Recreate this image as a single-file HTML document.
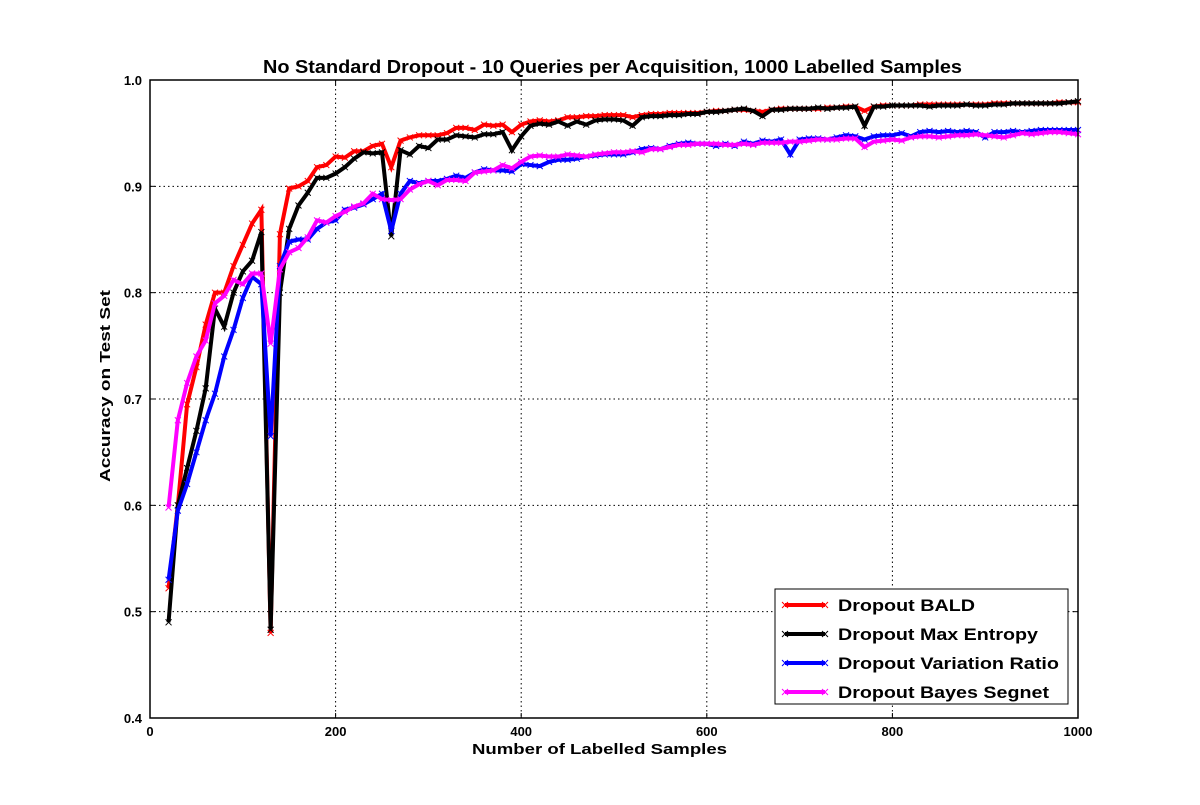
<!DOCTYPE html>
<html><head><meta charset="utf-8"><style>
body{margin:0;background:#fff;}
svg text{font-family:"Liberation Sans",sans-serif;font-weight:bold;}
</style></head><body>
<svg id="chart" width="1200" height="800">
<rect width="1200" height="800" fill="#fff"/>
<g id="grid"></g>
<g id="series"></g>
<rect x="150" y="80" width="928" height="638" fill="none" stroke="#000" stroke-width="1.5"/>
<g id="ticks"></g>
<text x="263" y="73" font-size="18" textLength="699" lengthAdjust="spacingAndGlyphs">No Standard Dropout - 10 Queries per Acquisition, 1000 Labelled Samples</text>
<text x="472" y="754" font-size="15" textLength="255" lengthAdjust="spacingAndGlyphs">Number of Labelled Samples</text>
<text transform="translate(110,482) rotate(-90)" font-size="15" textLength="192" lengthAdjust="spacingAndGlyphs">Accuracy on Test Set</text>
<g id="legend"></g>
</svg>
<script>
const xValues=[];for(let v=20;v<=1000;v+=10)xValues.push(v);
const xTicks=[0,200,400,600,800,1000];
const yTicks=[0.4,0.5,0.6,0.7,0.8,0.9,1.0];
const seriesNames=["Dropout BALD","Dropout Max Entropy","Dropout Variation Ratio","Dropout Bayes Segnet"];
const legendWidths=[137,200,221,211];
const bald=[.522,.60,.695,.73,.77,.80,.80,.825,.845,.865,.878,.48,.855,.898,.90,.905,.918,.92,.928,.927,.933,.933,.938,.94,.918,.943,.946,.948,.948,.948,.95,.955,.955,.953,.958,.957,.958,.951,.958,.961,.962,.961,.962,.965,.965,.966,.966,.967,.967,.967,.965,.967,.968,.968,.969,.969,.969,.969,.97,.971,.971,.972,.972,.971,.97,.972,.973,.973,.973,.973,.973,.974,.974,.975,.975,.971,.975,.976,.976,.976,.976,.977,.977,.977,.977,.977,.977,.977,.977,.978,.978,.978,.978,.978,.978,.978,.979,.979,.979];
const maxEntropy=[.49,.60,.635,.67,.71,.785,.768,.80,.82,.83,.857,.483,.80,.86,.882,.894,.908,.908,.912,.918,.926,.932,.931,.932,.853,.934,.93,.938,.936,.944,.944,.948,.947,.946,.949,.949,.951,.934,.947,.957,.959,.958,.961,.957,.961,.958,.962,.963,.963,.962,.957,.965,.966,.966,.967,.967,.968,.968,.97,.97,.971,.972,.973,.971,.966,.972,.972,.973,.973,.973,.974,.973,.974,.974,.975,.957,.975,.975,.976,.976,.976,.976,.975,.976,.976,.976,.977,.976,.976,.977,.977,.978,.978,.978,.978,.978,.978,.979,.98];
const variationRatio=[.53,.595,.62,.65,.68,.705,.74,.765,.795,.815,.808,.665,.825,.848,.85,.85,.86,.866,.868,.878,.88,.883,.888,.893,.858,.893,.905,.903,.905,.905,.907,.91,.908,.913,.916,.915,.915,.914,.921,.92,.919,.923,.925,.925,.926,.928,.929,.93,.93,.93,.932,.935,.936,.935,.938,.94,.941,.94,.94,.938,.94,.938,.942,.94,.943,.942,.944,.93,.944,.945,.945,.944,.946,.948,.947,.944,.947,.948,.948,.95,.947,.951,.952,.951,.952,.951,.952,.951,.946,.951,.951,.952,.951,.952,.953,.953,.953,.953,.953];
const bayesSegnet=[.598,.68,.715,.74,.755,.79,.797,.812,.808,.818,.818,.752,.822,.838,.842,.852,.868,.866,.872,.876,.881,.884,.893,.888,.887,.888,.897,.902,.905,.901,.906,.906,.905,.913,.914,.915,.92,.917,.923,.928,.929,.928,.928,.93,.929,.928,.93,.931,.932,.932,.933,.932,.935,.935,.937,.939,.939,.94,.94,.94,.939,.939,.94,.939,.941,.941,.941,.942,.942,.943,.944,.944,.944,.945,.945,.937,.942,.943,.944,.943,.946,.947,.947,.946,.947,.948,.948,.949,.948,.947,.946,.948,.95,.949,.95,.951,.951,.95,.949];
const allSeries=[bald,maxEntropy,variationRatio,bayesSegnet];
const colors=["#ff0000","#000000","#0000ff","#ff00ff"];
const X0=150,X1=1078,Y0=718,Y1=80;
const xs=v=>X0+(v-0)/(1000-0)*(X1-X0);
const ys=v=>Y0-(v-0.4)/(1.0-0.4)*(Y0-Y1);
const NS="http://www.w3.org/2000/svg";
function mk(t,a,p){const e=document.createElementNS(NS,t);for(const k in a)e.setAttribute(k,a[k]);p.appendChild(e);return e;}
const grid=document.getElementById('grid'),ticks=document.getElementById('ticks');
xTicks.forEach(t=>{const x=xs(t);
 const g=mk('line',{x1:x,x2:x,y1:Y1,y2:Y0,stroke:'#000','stroke-dasharray':'1.5,3','stroke-width':1},grid);
 
 mk('line',{x1:x,x2:x,y1:Y0,y2:Y0-5,stroke:'#000'},ticks);mk('line',{x1:x,x2:x,y1:Y1,y2:Y1+5,stroke:'#000'},ticks);
 const l=mk('text',{x:x,y:Y0+18,'font-size':13,'text-anchor':'middle'},ticks);l.textContent=t;
 });
yTicks.forEach(t=>{const y=ys(t);
 const g=mk('line',{x1:X0,x2:X1,y1:y,y2:y,stroke:'#000','stroke-dasharray':'1.5,3','stroke-width':1},grid);
 
 mk('line',{x1:X0,x2:X0+5,y1:y,y2:y,stroke:'#000'},ticks);mk('line',{x1:X1,x2:X1-5,y1:y,y2:y,stroke:'#000'},ticks);
 const l=mk('text',{x:X0-8,y:y+5,'font-size':13,'text-anchor':'end'},ticks);l.textContent=t.toFixed(1);
 });
const sg=document.getElementById('series');
function marker(x,y,c,p){mk('path',{d:`M${x-3},${y-3}L${x+3},${y+3}M${x-3},${y+3}L${x+3},${y-3}`,stroke:c,'stroke-width':1,fill:'none'},p);}
allSeries.forEach((s,i)=>{const g=mk('g',{},sg);
 
 
 const pts=s.map((v,j)=>xs(xValues[j])+','+ys(v)).join(' ');
 mk('polyline',{points:pts,fill:'none',stroke:colors[i],'stroke-width':4,'stroke-linejoin':'miter'},g);
 s.forEach((v,j)=>marker(xs(xValues[j]),ys(v),colors[i],g));});
const lg=document.getElementById('legend');
mk('rect',{x:775,y:589,width:293,height:115,fill:'#fff',stroke:'#000','stroke-width':1},lg);
seriesNames.forEach((n,i)=>{const y=605+i*29;
 const e=mk('g',{},lg);
 mk('line',{x1:785,x2:825,y1:y,y2:y,stroke:colors[i],'stroke-width':4},e);
 marker(785,y,colors[i],e);marker(825,y,colors[i],e);
 const t=mk('text',{x:838,y:y+6,'font-size':17,textLength:legendWidths[i],lengthAdjust:'spacingAndGlyphs'},e);t.textContent=n;});
</script>
</body></html>
